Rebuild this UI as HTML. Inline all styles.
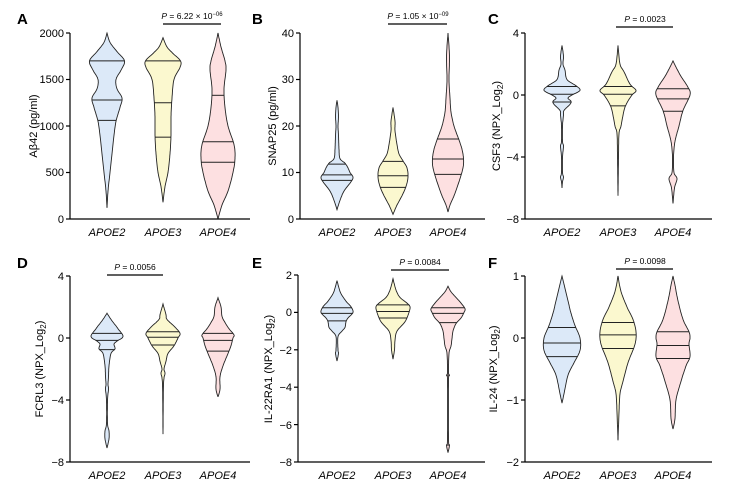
<!DOCTYPE html>
<html><head><meta charset="utf-8"><style>
body{margin:0;background:#fff}
svg{display:block;font-family:"Liberation Sans",Arial,sans-serif}
</style></head><body>
<svg id="s" width="734" height="482" viewBox="0 0 734 482" xmlns="http://www.w3.org/2000/svg">
<g font-weight="bold" font-size="15" fill="#000">
<text x="17" y="24">A</text><text x="252" y="24">B</text><text x="488" y="24">C</text>
<text x="17" y="268">D</text><text x="252" y="268">E</text><text x="488" y="268">F</text>
</g>
<g id="g"></g>
<g font-size="11" text-anchor="middle" font-style="italic">
<text x="107" y="236">APOE2</text><text x="163" y="236">APOE3</text><text x="218" y="236">APOE4</text>
<text x="337" y="236">APOE2</text><text x="393" y="236">APOE3</text><text x="448" y="236">APOE4</text>
<text x="562" y="236">APOE2</text><text x="618" y="236">APOE3</text><text x="673" y="236">APOE4</text>
<text x="107" y="479">APOE2</text><text x="163" y="479">APOE3</text><text x="218" y="479">APOE4</text>
<text x="337" y="479">APOE2</text><text x="393" y="479">APOE3</text><text x="448" y="479">APOE4</text>
<text x="562" y="479">APOE2</text><text x="618" y="479">APOE3</text><text x="673" y="479">APOE4</text>
</g>
<g font-size="11" text-anchor="end">
<text x="64" y="37">2000</text><text x="64" y="83">1500</text><text x="64" y="130">1000</text><text x="64" y="176">500</text><text x="64" y="223">0</text>
<text x="294" y="37">40</text><text x="294" y="83">30</text><text x="294" y="130">20</text><text x="294" y="176">10</text><text x="294" y="223">0</text>
<text x="519" y="37">4</text><text x="519" y="99">0</text><text x="519" y="161">−4</text><text x="519" y="223">−8</text>
<text x="64" y="280">4</text><text x="64" y="342">0</text><text x="64" y="404">−4</text><text x="64" y="466">−8</text>
<text x="292" y="279">2</text><text x="292" y="316">0</text><text x="292" y="354">−2</text><text x="292" y="391">−4</text><text x="292" y="429">−6</text><text x="292" y="466">−8</text>
<text x="519" y="280">1</text><text x="519" y="342">0</text><text x="519" y="404">−1</text><text x="519" y="466">−2</text>
</g>
<g font-size="11" text-anchor="middle">
<text transform="translate(37,126) rotate(-90)">Aβ42 (pg/ml)</text>
<text transform="translate(276,126) rotate(-90)">SNAP25 (pg/ml)</text>
<text transform="translate(500,126) rotate(-90)">CSF3 (NPX_Log<tspan font-size="8" dy="3">2</tspan><tspan dy="-3">)</tspan></text>
<text transform="translate(43,369) rotate(-90)">FCRL3 (NPX_Log<tspan font-size="8" dy="3">2</tspan><tspan dy="-3">)</tspan></text>
<text transform="translate(272,369) rotate(-90)">IL-22RA1 (NPX_Log<tspan font-size="8" dy="3">2</tspan><tspan dy="-3">)</tspan></text>
<text transform="translate(497,369) rotate(-90)">IL-24 (NPX_Log<tspan font-size="8" dy="3">2</tspan><tspan dy="-3">)</tspan></text>
</g>
<g font-size="8.5" text-anchor="middle">
<text x="192" y="19"><tspan font-style="italic">P</tspan> = 6.22 × 10<tspan font-size="6" dy="-3">−06</tspan></text>
<text x="418" y="19"><tspan font-style="italic">P</tspan> = 1.05 × 10<tspan font-size="6" dy="-3">−09</tspan></text>
<text x="645" y="22"><tspan font-style="italic">P</tspan> = 0.0023</text>
<text x="135" y="270"><tspan font-style="italic">P</tspan> = 0.0056</text>
<text x="420" y="265"><tspan font-style="italic">P</tspan> = 0.0084</text>
<text x="645" y="264"><tspan font-style="italic">P</tspan> = 0.0098</text>
</g>
<g stroke="#000" stroke-width="1.3">
<line x1="163" y1="24" x2="221" y2="24"/><line x1="388" y1="24" x2="447" y2="24"/><line x1="616" y1="27" x2="673" y2="27"/>
<line x1="107" y1="275" x2="163" y2="275"/><line x1="391" y1="270" x2="449" y2="270"/><line x1="616" y1="269" x2="673" y2="269"/>
</g>
</svg>
<script>
var NS="http://www.w3.org/2000/svg",G=document.getElementById("g");
function el(t,a){var e=document.createElementNS(NS,t);for(var k in a)e.setAttribute(k,a[k]);G.appendChild(e);return e;}
var C=["#dce9f8","#fbf8cf","#fde0e1"];
function panel(ax,x2,y0,y1,v0,v1,ticks,cs,vi){
 var f=function(v){return y0+(v-v0)*(y1-y0)/(v1-v0);};
 for(var i=0;i<3;i++){
  var p=vi[i].p,q=vi[i].q,cx=cs[i];
  var pts=[];
  // dense interpolation with catmull-rom
  var P=p.map(function(a){return [f(a[0]),a[1]];});
  var dense=[];
  for(var j=0;j<P.length-1;j++){
   var a=P[Math.max(j-1,0)],b=P[j],c=P[j+1],d=P[Math.min(j+2,P.length-1)];
   for(var t=0;t<1;t+=0.1){
    var t2=t*t,t3=t2*t;
    var y=0.5*((2*b[0])+(-a[0]+c[0])*t+(2*a[0]-5*b[0]+4*c[0]-d[0])*t2+(-a[0]+3*b[0]-3*c[0]+d[0])*t3);
    var w=0.5*((2*b[1])+(-a[1]+c[1])*t+(2*a[1]-5*b[1]+4*c[1]-d[1])*t2+(-a[1]+3*b[1]-3*c[1]+d[1])*t3);
    dense.push([y,Math.max(0,w)]);
   }
  }
  dense.push(P[P.length-1]);
  var s="M";
  dense.forEach(function(d){s+=(cx+d[1]).toFixed(1)+","+d[0].toFixed(1)+" L";});
  for(var k=dense.length-1;k>=0;k--){s+=(cx-dense[k][1]).toFixed(1)+","+dense[k][0].toFixed(1)+(k?" L":"");}
  s+="Z";
  el("path",{d:s,fill:C[i],stroke:"#222","stroke-width":"0.9"});
  q.forEach(function(v){
   var y=f(v),w=0;
   for(var k=0;k<dense.length-1;k++){var A=dense[k],B=dense[k+1];if((A[0]-y)*(B[0]-y)<=0){var r=(B[0]==A[0])?0:(y-A[0])/(B[0]-A[0]);w=A[1]+r*(B[1]-A[1]);break;}}
   el("line",{x1:cx-w,x2:cx+w,y1:y,y2:y,stroke:"#222","stroke-width":"1"});
  });
 }
 el("line",{x1:ax,x2:ax,y1:y1,y2:y0,stroke:"#000","stroke-width":"1.2"});
 el("line",{x1:ax,x2:x2,y1:y0,y2:y0,stroke:"#000","stroke-width":"1.2"});
 ticks.forEach(function(v){el("line",{x1:ax-4,x2:ax,y1:f(v),y2:f(v),stroke:"#000","stroke-width":"1.2"});});
}
panel(70,250,219,33,0,2000,[0,500,1000,1500,2000],[107,163,218],[
{p:[[120,0],[300,1],[500,3],[700,5],[900,7],[1050,9],[1200,13],[1300,15],[1400,10],[1500,9],[1600,14],[1700,17.5],[1800,10],[1900,3],[2000,0]],q:[1060,1280,1700]},
{p:[[180,0],[350,2],[500,5],[700,7],[900,8],[1100,8],[1300,9],[1500,11],[1630,17],[1700,17.5],[1780,10],[1850,4],[1950,0]],q:[880,1250,1700]},
{p:[[0,0],[150,4],[300,10],[500,15],[650,17],[800,16],[1000,10],[1200,7],[1400,6],[1600,8],[1700,7],[1850,3],[2000,0]],q:[610,830,1330]}]);
panel(300,485,219,33,0,40,[0,10,20,30,40],[337,393,448],[
{p:[[2,0],[4,3],[6,7],[8,14],[9,16],[10,13],[11,11],[12,8],[13,3],[15,2],[18,1.5],[20,1],[22,1.5],[24,1],[25.5,0]],q:[8.3,9.5,11.8]},
{p:[[1,0],[3,4],[5,9],[7,13],[9,15],[11,14],[12.5,10],[14,6],[16,4],[19,2],[21,2],[24,0]],q:[6.8,9.3,12.4]},
{p:[[1.5,0],[3,2],[5,6],[8,11],[11,15],[13,15.5],[15,14],[17,11],[20,6],[23,3],[26,2],[30,1],[35,1.5],[40,0]],q:[9.6,12.9,17.2]}]);
panel(525,712,219,33,-8,4,[-8,-4,0,4],[562,618,673],[
{p:[[-6,0],[-5.6,0.5],[-5.3,1.5],[-5,0.5],[-4,0.5],[-3.3,1.5],[-3,0.5],[-2,0.5],[-1.3,1.5],[-1,2],[-0.6,8],[-0.4,9],[-0.2,6],[0,10],[0.3,18],[0.6,14],[1,5],[1.6,3],[2,1],[2.5,1.5],[3.2,0]],q:[-0.45,0.05,0.55]},
{p:[[-6.5,0],[-4,0.5],[-2.5,1],[-2,3],[-1,6],[-0.5,9],[0,14],[0.3,18],[0.7,12],[1.5,6],[2,2],[3.2,0]],q:[-0.7,0.05,0.55]},
{p:[[-7,0],[-6,1.5],[-5.4,4],[-5,1],[-4,0.5],[-3.2,1.5],[-2.7,3],[-2,6],[-1,10],[0,17],[0.5,15],[1.2,8],[1.8,3],[2.2,0]],q:[-1.05,-0.25,0.4]}]);
panel(70,250,462,276,-8,4,[-8,-4,0,4],[107,163,218],[
{p:[[-7.1,0],[-6.5,2],[-6,2],[-5.5,0.5],[-4,0.5],[-3.3,1.5],[-3,1],[-2.5,1.5],[-1.8,2],[-1,4],[-0.7,8],[-0.4,7],[-0.2,10],[0.1,16],[0.6,11],[1.2,4],[1.6,0]],q:[-0.75,-0.15,0.3]},
{p:[[-6.2,0],[-3,0.5],[-2.3,2],[-2,1],[-1.5,3],[-1,5],[-0.5,11],[0,15],[0.3,17],[0.7,12],[1.2,4],[1.5,3],[2.2,0]],q:[-0.45,0.05,0.4]},
{p:[[-3.8,0],[-3.3,2],[-2.5,2],[-1.8,5],[-1,10],[-0.5,13],[0,15],[0.2,16],[0.6,11],[1,7],[1.4,4],[2,3],[2.6,0]],q:[-0.85,-0.15,0.3]}]);
panel(298,485,462,275,-8,2,[-8,-6,-4,-2,0,2],[337,393,448],[
{p:[[-2.6,0],[-2.2,1.5],[-2,1],[-1.3,1],[-1,5],[-0.8,8],[-0.5,9],[-0.3,11],[0,16],[0.3,14],[0.6,9],[1,4],[1.3,2],[1.7,0]],q:[-0.45,-0.05,0.25]},
{p:[[-2.5,0],[-2,1.5],[-1.5,2],[-1,4],[-0.5,12],[0,16],[0.3,17],[0.5,14],[0.8,7],[1.2,3],[1.8,0]],q:[-0.3,0.05,0.4]},
{p:[[-7.5,0],[-7.1,1.5],[-6.8,0.5],[-3.6,0.5],[-3.4,1.5],[-3.2,0.5],[-2.2,1],[-1.8,3],[-1.4,4],[-1,5],[-0.6,8],[-0.3,13],[0,16],[0.2,17],[0.5,13],[0.8,8],[1.1,3],[1.4,0]],q:[-0.55,-0.05,0.25]}]);
panel(525,712,462,276,-2,1,[-2,-1,0,1],[562,618,673],[
{p:[[-1.05,0],[-0.9,2],[-0.6,6],[-0.4,12],[-0.2,18],[0,18],[0.2,13],[0.4,9],[0.6,6],[0.8,3],[1,0]],q:[-0.3,-0.08,0.17]},
{p:[[-1.65,0],[-1.2,1],[-0.9,2],[-0.7,5],[-0.4,10],[-0.1,17],[0.1,18],[0.3,15],[0.5,9],[0.75,3],[1,0]],q:[-0.17,0.05,0.25]},
{p:[[-1.47,0],[-1.3,2],[-1,3],[-0.7,8],[-0.45,13],[-0.3,17],[-0.1,16],[0,17],[0.1,16],[0.3,10],[0.6,5],[0.85,2],[1,0]],q:[-0.33,-0.12,0.1]}]);
</script>
</body></html>
